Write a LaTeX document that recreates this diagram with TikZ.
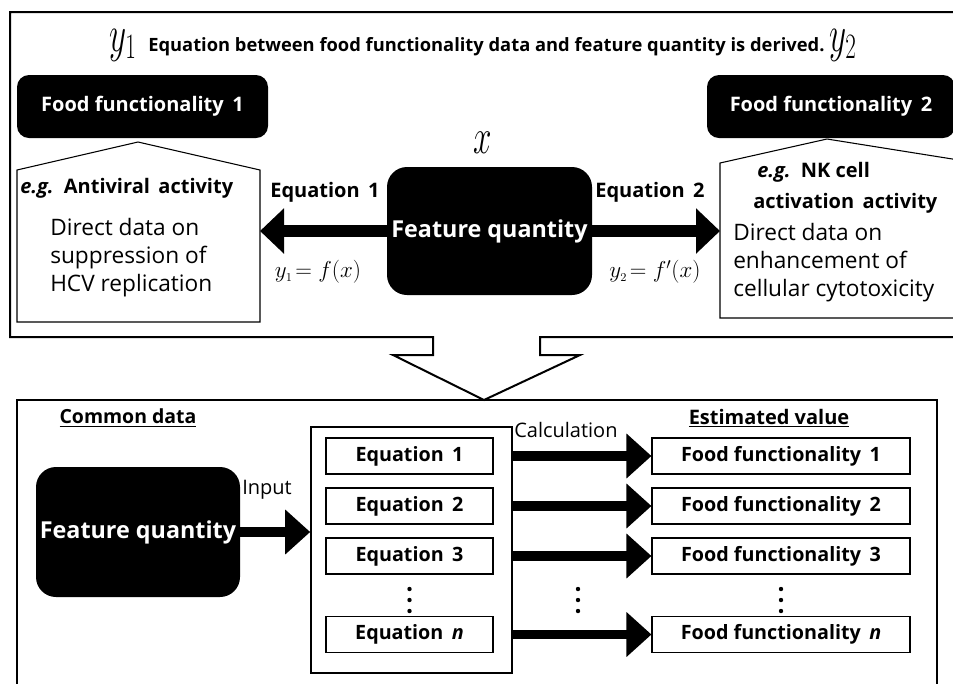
\documentclass[tikz,border=0pt]{standalone}
\usepackage{fontspec}
\setmainfont{Open Sans}
\usetikzlibrary{arrows.meta}
\begin{document}
\begin{tikzpicture}[x=0.75pt,y=-0.75pt,
  blk/.style={fill=black,text=white,inner sep=0pt,font=\bfseries\fontsize{15}{18}\selectfont},
  wbox/.style={draw=black,line width=0.8pt,fill=white,inner sep=0pt,font=\bfseries\fontsize{14.8}{17}\selectfont},
  lbl/.style={inner sep=0pt,font=\bfseries\fontsize{15}{18}\selectfont},
  plain/.style={inner sep=0pt,font=\fontsize{15}{18}\selectfont},
  big/.style={inner sep=0pt,align=left,font=\fontsize{17}{21}\selectfont},
  mth/.style={inner sep=0pt,font=\fontsize{18}{20}\selectfont},
  bigmath/.style={inner sep=0pt,font=\fontsize{24}{26}\selectfont},
  toparrow/.style={line width=9pt,-{Triangle[length=18pt,width=33pt]}},
  botarrow/.style={line width=7pt,-{Triangle[length=18.75pt,width=32.5pt]}},
  frame/.style={line width=1.5pt,line join=miter}
]
\useasboundingbox (0,0) rectangle (953,683);
% top frame with big down arrow
\draw[frame] (970,12) -- (10,12) -- (10,337) -- (433,337) -- (433,355) -- (393,355) -- (484,400)
   -- (580,355) -- (540,355) -- (540,337) -- (970,337);
% bottom frame
\draw[line width=1.2pt] (17,700) -- (17,400) -- (937,400) -- (937,700);

% header
\node[bigmath] (y1) at (123,45) {\scalebox{1}[1.55]{$y_1$}};
\node[lbl,anchor=west,font=\bfseries\fontsize{13.75}{16}\selectfont] (hdr) at (148,47) {Equation between food functionality data and feature quantity is derived.};
\node[bigmath] (y2) at (843,45) {\scalebox{1}[1.55]{$y_2$}};

% food functionality black boxes
\node[blk,rounded corners=9pt,minimum width=251*0.75pt,minimum height=63*0.75pt] (ff1) at (142.5,106.5) {Food functionality\, 1};
\node[blk,rounded corners=9pt,minimum width=248*0.75pt,minimum height=63*0.75pt] (ff2) at (831,106.5) {Food functionality\, 2};

% callouts
\draw[line width=0.8pt] (138,142) -- (260,170) -- (260,322) -- (17,322) -- (17,170) -- cycle;
\draw[line width=0.8pt] (827,139) -- (990,165) -- (990,318) -- (720,318) -- (720,163) -- cycle;
\node[lbl,anchor=west] (eg1) at (20,188) {\textit{e.g.}\, Antiviral\, activity};
\node[big,anchor=north west] (dd1) at (50,218) {Direct data on\\suppression of\\HCV replication};
\node[lbl,anchor=west] (eg2a) at (757,172) {\textit{e.g.}\, NK cell};
\node[lbl,anchor=west] (eg2b) at (753,203) {activation\, activity};
\node[big,anchor=north west] (dd2) at (733,223) {Direct data on\\enhancement of\\cellular cytotoxicity};

% feature quantity (top)
\node[bigmath] (xv) at (483,143) {\scalebox{1}[1.5]{$x$}};
\node[blk,rounded corners=15pt,minimum width=205*0.75pt,minimum height=128*0.75pt,font=\bfseries\fontsize{17.5}{20}\selectfont] (fq) at (489.5,231) {Feature quantity};
\coordinate (c1e) at (260,231);
\coordinate (c2w) at (720,231);
\draw[toparrow] (fq.west) -- (c1e);
\draw[toparrow] (fq.east) -- (c2w);
\node[lbl] (eq1l) at (325,192) {Equation\, 1};
\node[lbl] (eq2l) at (650,192) {Equation\, 2};
\node[mth] (f1) at (318,272) {$y_{\scriptscriptstyle 1}\!=f(x)$};
\node[mth] (f2) at (655,272) {$y_{\scriptscriptstyle 2}\!=f'(x)$};

% bottom part
\node[lbl,font=\bfseries\fontsize{14.6}{17}\selectfont] (cd) at (128,418) {\underline{Common data}};
\node[lbl,font=\bfseries\fontsize{15}{17}\selectfont] (ev) at (769,418) {\underline{Estimated value}};
\node[blk,rounded corners=15pt,minimum width=204*0.75pt,minimum height=130*0.75pt,font=\bfseries\fontsize{17.5}{20}\selectfont] (fqb) at (138,532) {Feature quantity};
\node[draw=black,line width=1.2pt,minimum width=201*0.75pt,minimum height=246*0.75pt,inner sep=0pt] (eqo) at (411.5,550) {};
\draw[botarrow] (fqb.east) -- (fqb.east -| eqo.west);
\node[plain,anchor=west] (inp) at (242,490) {Input};
\node[plain,anchor=west] (calc) at (514,430) {Calculation};

\foreach \i/\t/\y in {1/1/456,2/2/506,3/3/556,n/\textit{n}/634.5}{
  \node[wbox,minimum width=167*0.75pt,minimum height=36*0.75pt] (e\i) at (409.5,\y) {Equation\, \t};
  \node[wbox,minimum width=258*0.75pt,minimum height=36*0.75pt] (g\i) at (781,\y) {Food functionality\, \t};
  \draw[botarrow] (eqo.east |- e\i) -- (g\i.west);
}
% vertical dots
\foreach \xx in {409.5,578,781}{
  \foreach \yy in {589,600,611}{
    \fill (\xx,\yy) circle (2.2);
  }
}
\end{tikzpicture}
\end{document}
